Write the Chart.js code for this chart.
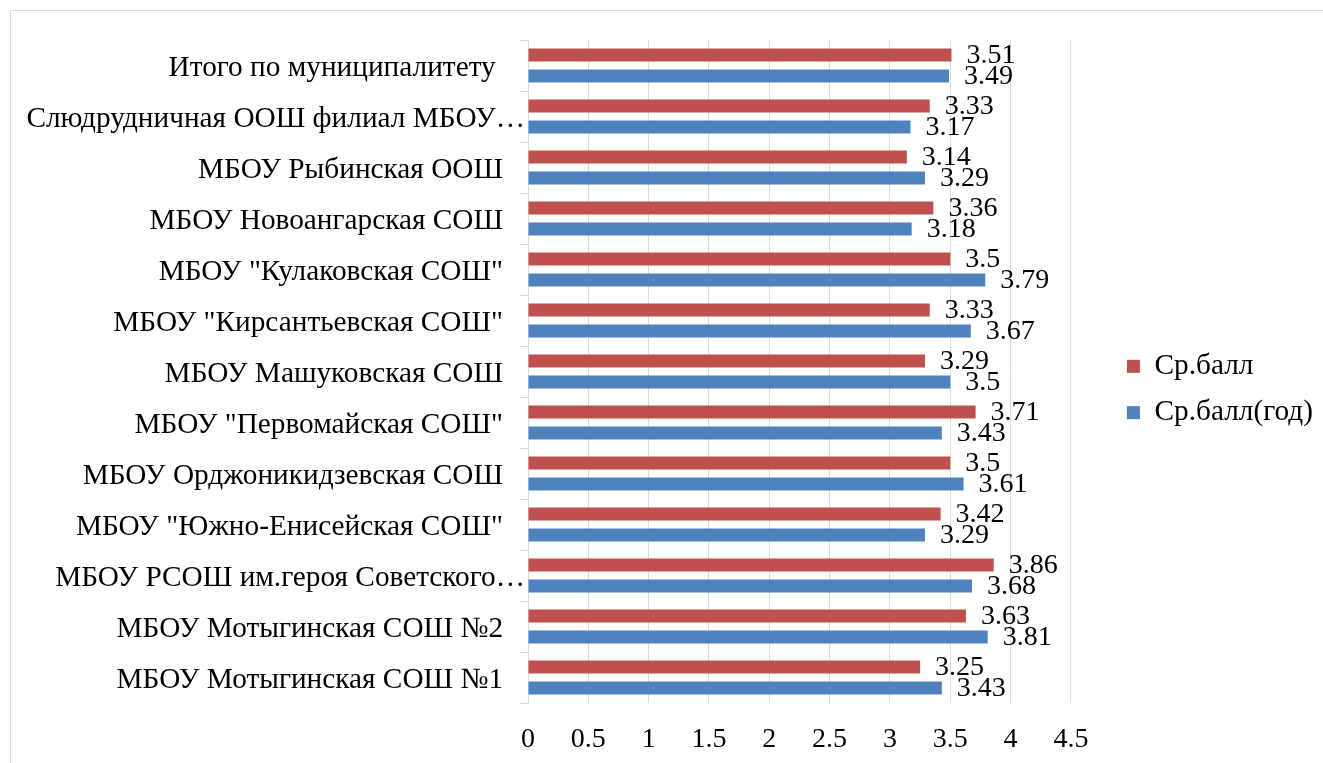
<!DOCTYPE html>
<html>
<head>
<meta charset="utf-8">
<script src="https://cdn.jsdelivr.net/npm/chart.js@4/dist/chart.umd.min.js"></script>
<style>
  html, body { margin: 0; padding: 0; background: #fff; }
  #wrap { position: relative; width: 1323px; height: 763px; overflow: hidden; }
  #frame { position: absolute; left: 10px; top: 10px; width: 1340px; height: 770px; border: 1px solid #d9d9d9; box-sizing: border-box; }
  #chart { position: absolute; left: 0; top: 0; }
</style>
</head>
<body>
<div id="wrap">
  <div id="frame"></div>
  <canvas id="chart" width="1323" height="763"></canvas>
</div>
<script>
// ================= DATA =================
const schools = [
  "Итого по муниципалитету ",
  "Слюдрудничная ООШ филиал МБОУ…",
  "МБОУ Рыбинская ООШ",
  "МБОУ Новоангарская СОШ",
  "МБОУ \"Кулаковская СОШ\"",
  "МБОУ \"Кирсантьевская СОШ\"",
  "МБОУ Машуковская СОШ",
  "МБОУ \"Первомайская СОШ\"",
  "МБОУ Орджоникидзевская СОШ",
  "МБОУ \"Южно-Енисейская СОШ\"",
  "МБОУ РСОШ им.героя Советского…",
  "МБОУ Мотыгинская СОШ №2",
  "МБОУ Мотыгинская СОШ №1"
];
const avgScore = [3.51, 3.33, 3.14, 3.36, 3.5, 3.33, 3.29, 3.71, 3.5, 3.42, 3.86, 3.63, 3.25];
const avgScoreYear = [3.49, 3.17, 3.29, 3.18, 3.79, 3.67, 3.5, 3.43, 3.61, 3.29, 3.68, 3.81, 3.43];
const seriesNames = ["Ср.балл", "Ср.балл(год)"];
const xMin = 0, xMax = 4.5, xStep = 0.5;

// ================= STYLE =================
const FONT = "'Liberation Serif', 'Times New Roman', serif";
const TEXT_SIZE = 29.3;   // category names + legend
const NUM_SIZE = 28;      // axis numbers + value labels
const RED = "#C0504D";
const BLUE = "#4F81BD";
const GRID = "#d9d9d9";

// value labels at the end of every bar
const valueLabels = {
  id: "valueLabels",
  afterDatasetsDraw(chart) {
    const ctx = chart.ctx;
    ctx.save();
    ctx.font = NUM_SIZE + "px " + FONT;
    ctx.fillStyle = "#000";
    ctx.textAlign = "left";
    ctx.textBaseline = "middle";
    chart.data.datasets.forEach((ds, i) => {
      chart.getDatasetMeta(i).data.forEach((bar, j) => {
        ctx.fillText(String(ds.data[j]), bar.x + 15, bar.y + 1);
      });
    });
    ctx.restore();
  }
};

// empty spacer boxes, only there to push the plot area into place
const spacer = (axis, position, size) => ({
  type: "linear",
  axis: axis,
  position: position,
  display: true,
  grid: { display: false },
  border: { display: false },
  ticks: { display: false },
  afterFit: (scale) => {
    if (axis === "x") scale.height = size; else scale.width = size;
  }
});

new Chart(document.getElementById("chart"), {
  type: "bar",
  data: {
    labels: schools,
    datasets: [
      { label: seriesNames[0], data: avgScore, backgroundColor: RED, categoryPercentage: 0.82, barPercentage: 0.62 },
      { label: seriesNames[1], data: avgScoreYear, backgroundColor: BLUE, categoryPercentage: 0.82, barPercentage: 0.62 }
    ]
  },
  options: {
    indexAxis: "y",
    responsive: false,
    animation: false,
    layout: { padding: { top: 18, left: 0, right: 0, bottom: 2 } },
    plugins: {
      tooltip: { enabled: false },
      legend: {
        position: "right",
        align: "center",
        labels: {
          boxWidth: 13,
          boxHeight: 13,
          padding: 17,
          color: "#000",
          font: { family: FONT, size: TEXT_SIZE }
        }
      }
    },
    scales: {
      x: {
        min: xMin,
        max: xMax,
        ticks: {
          stepSize: xStep,
          padding: 20,
          color: "#000",
          font: { family: FONT, size: NUM_SIZE },
          callback: (v) => String(v)
        },
        grid: { color: GRID, drawTicks: false },
        border: { display: false },
        afterFit: (scale) => { scale.height = 58; }
      },
      y: {
        ticks: {
          padding: -5,
          labelOffset: 3,
          color: "#000",
          font: { family: FONT, size: TEXT_SIZE },
          autoSkip: false,
          callback: function (v) {
            const s = this.getLabelForValue(v);
            return s.endsWith("…") ? s : s + "   ";
          }
        },
        grid: { color: GRID, drawOnChartArea: false, drawTicks: true, tickLength: 8 },
        border: { display: true, color: GRID },
        afterFit: (scale) => { scale.width = 528; }
      },
      gapRight: spacer("y", "right", 39),
      gapTop: spacer("x", "top", 22)
    }
  },
  plugins: [valueLabels]
});
</script>
</body>
</html>
